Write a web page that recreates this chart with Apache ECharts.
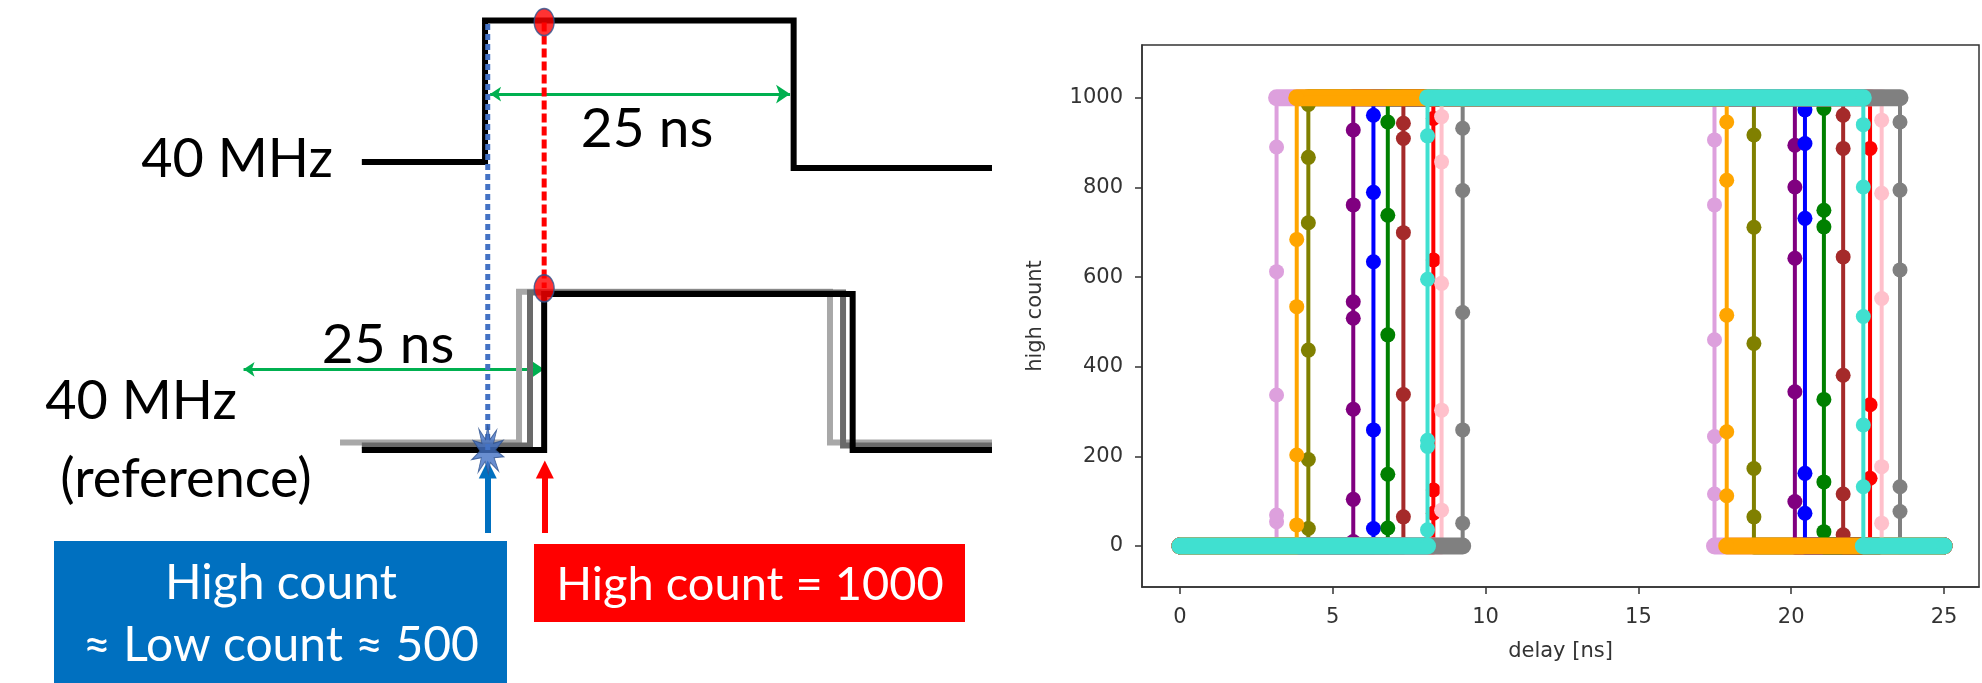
<!DOCTYPE html>
<html><head><meta charset="utf-8">
<script src="https://cdn.jsdelivr.net/npm/echarts@6/dist/echarts.min.js"></script>
<style>html,body{margin:0;padding:0;background:#fff}#c{width:1982px;height:683px}</style>
</head><body><div id="c"></div>
<script>
// ================= right panel: measured scans =================
const delayTicks = [0, 5, 10, 15, 20, 25];
const countTicks = [0, 200, 400, 600, 800, 1000];
const scanNames = ['plum', 'olive', 'purple', 'blue', 'green', 'brown', 'red', 'pink', 'gray', 'orange', 'turquoise'];
const firstDelay = 0;
const lastDelay = 25;
const lowCount = 0;
const highCount = 1000;
const riseDelay = [3.16, 4.2, 5.67, 6.33, 6.8, 7.31, 8.29, 8.56, 9.25, 3.82, 8.1];
const fallDelay = [17.49, 18.78, 20.12, 20.45, 21.07, 21.7, 22.58, 22.96, 23.56, 17.89, 22.36];
const riseCounts = [
  [54, 69, 337, 612, 890],
  [39, 193, 437, 721, 867, 985],
  [10, 104, 305, 508, 545, 761, 928],
  [39, 259, 634, 789, 961],
  [40, 160, 471, 738, 946],
  [65, 338, 699, 909, 943],
  [73, 125, 638, 954],
  [80, 303, 586, 857, 958],
  [51, 259, 521, 793, 932],
  [47, 203, 534, 684],
  [36, 222, 236, 595, 915]
];
const fallCounts = [
  [906, 761, 460, 244, 116],
  [917, 711, 452, 173, 65],
  [894, 801, 642, 344, 99],
  [973, 898, 731, 162, 73],
  [976, 749, 712, 327, 143, 32],
  [961, 887, 645, 381, 116, 25],
  [887, 315, 151],
  [950, 787, 552, 177, 51],
  [999, 946, 794, 616, 132, 77],
  [946, 816, 515, 255, 112],
  [940, 801, 512, 270, 132]
];

// ================= left panel: timing diagram (x in ns, y in logic level) =================
const clockTop = [[-10, 1.92], [0, 1.92], [0, 2.863], [25.05, 2.863], [25.05, 1.88], [41.15, 1.88]];
const refGhostLight = [[-11.77, 0.05], [2.76, 0.05], [2.76, 1.055], [28.0, 1.055], [28.0, 0.05], [41.15, 0.05]];
const refGhostDark = [[-10, 0.03], [3.65, 0.03], [3.65, 1.05], [29.06, 1.05], [29.06, 0.03], [41.15, 0.03]];
const refClock = [[-10, 0], [4.8, 0], [4.8, 1.04], [29.84, 1.04], [29.84, 0], [41.15, 0]];
const blueSample = [[0.22, 2.84], [0.22, 0]];
const redSample = [[4.8, 2.85], [4.8, 1.08]];
const redDots = [[4.8, 2.853], [4.8, 1.078]];
const blueBurst = [[0.22, 0]];
const periodArrows = [[[0.41, 2.373], [24.76, 2.373]], [[-19.6, 0.538], [4.8, 0.538]]];
const blueArrow = [[0.22, -0.553], [0.22, -0.129]];
const redArrow = [[4.85, -0.553], [4.85, -0.129]];
const periodLabel = '25 ns';
const clockLabel = '40 MHz';
const refLabel = '(reference)';
const blueBoxLines = ['High count', '≈ Low count ≈ 500'];
const redBoxLine = 'High count = 1000';

// ---------------- styles ----------------
const scanColors = {
  plum: '#DDA0DD', olive: '#808000', purple: '#800080', blue: '#0000FF', green: '#008000',
  brown: '#A52A2A', red: '#FF0000', pink: '#FFC0CB', gray: '#808080', orange: '#FFA500', turquoise: '#40E0D0'
};
const axisInk = '#333';
const mplFont = 'DejaVu Sans';
const diaFont = "Lato, 'Liberation Sans', sans-serif";

const series = [];
function band(seg, color, z) {
  return { type: 'line', xAxisIndex: 0, yAxisIndex: 0, silent: true, data: seg, z: z,
    showSymbol: false, symbol: 'none',
    lineStyle: { color: color, width: 17, cap: 'round' } };
}
scanNames.forEach((name, i) => {
  const r = riseDelay[i], f = fallDelay[i];
  const color = scanColors[name];
  const z = 10 + i;
  series.push(band([[firstDelay, lowCount], [r, lowCount]], color, z));
  series.push(band([[r, highCount], [f, highCount]], color, z));
  series.push(band([[f, lowCount], [lastDelay, lowCount]], color, z));
  const trace = [[firstDelay, lowCount], [r, lowCount]]
    .concat(riseCounts[i].map(v => [r, v]))
    .concat([[r, highCount], [f, highCount]])
    .concat(fallCounts[i].map(v => [f, v]))
    .concat([[f, lowCount], [lastDelay, lowCount]]);
  series.push({
    type: 'line', name: name, xAxisIndex: 0, yAxisIndex: 0, silent: true, z: z,
    data: trace, symbol: 'circle', symbolSize: 15, showSymbol: true, showAllSymbol: true,
    itemStyle: { color: color }, lineStyle: { color: color, width: 4 }
  });
});

// diagram series
const D = { xAxisIndex: 1, yAxisIndex: 1, silent: true };
function wave(data, color, width, type, extra) {
  return Object.assign({ type: 'line', data: data, showSymbol: false, symbol: 'none',
    lineStyle: { color: color, width: width, type: type || 'solid', cap: 'butt', join: 'miter' } }, D, extra || {});
}
series.push(wave(clockTop, '#000', 6));
series.push(wave(refGhostLight, '#A8A8A8', 6));
series.push(wave(refGhostDark, '#6A6A6A', 6));
series.push(wave(refClock, '#000', 6));
series.push(wave(blueSample, '#4472C4', 5, [6, 4]));
series.push(wave(redSample, '#FF0000', 5, [9, 4]));
series.push(Object.assign({ type: 'lines', coordinateSystem: 'cartesian2d',
  lineStyle: { color: '#00B050', width: 3, opacity: 1 }, symbol: ['arrow', 'arrow'], symbolSize: [11, 14],
  data: periodArrows.map(c => ({ coords: c })) }, D));
series.push(Object.assign({ type: 'lines', coordinateSystem: 'cartesian2d',
  lineStyle: { color: '#0070C0', width: 6, opacity: 1 }, symbol: ['none', 'triangle'], symbolSize: [19, 18],
  data: [{ coords: blueArrow }] }, D));
series.push(Object.assign({ type: 'lines', coordinateSystem: 'cartesian2d',
  lineStyle: { color: '#FF0000', width: 6, opacity: 1 }, symbol: ['none', 'triangle'], symbolSize: [19, 18],
  data: [{ coords: redArrow }] }, D));
series.push(Object.assign({ type: 'scatter', data: redDots, symbol: 'circle', symbolSize: [20, 27],
  itemStyle: { color: '#FF0000', borderColor: '#2F528F', borderWidth: 1.5 }, z: 5 }, D));
series.push(Object.assign({ type: 'scatter', data: blueBurst,
  symbol: 'path://M50,0 L57,28 L78,8 L68,36 L98,30 L74,50 L100,64 L70,66 L84,94 L58,76 L52,100 L42,74 L20,96 L30,66 L0,70 L26,52 L4,30 L32,36 L22,6 L43,28 Z',
  symbolSize: [32, 48], itemStyle: { color: '#4472C4', borderColor: '#2F528F', borderWidth: 1 }, z: 5 }, D));

function txt(x, y, text, size, color) {
  return { type: 'text', x: x, y: y, silent: true, z: 10,
    style: { text: text, font: size + 'px ' + diaFont, fill: color || '#000', textAlign: 'center', textVerticalAlign: 'middle' } };
}

const chart = echarts.init(document.getElementById('c'), null, { renderer: 'canvas' });
chart.setOption({
  animation: false,
  backgroundColor: '#fff',
  grid: [
    { left: 1142, top: 45, width: 837, height: 542, show: true, borderColor: axisInk, borderWidth: 1.5, backgroundColor: 'transparent' },
    { left: 0, top: 0, width: 1000, height: 683, show: false }
  ],
  xAxis: [
    { type: 'value', gridIndex: 0, min: -1.243, max: 26.145,
      name: 'delay [ns]', nameLocation: 'middle', nameGap: 54,
      nameTextStyle: { fontFamily: mplFont, fontSize: 21, color: axisInk },
      axisLine: { show: true, onZero: false, lineStyle: { color: axisInk, width: 1.5 } },
      axisTick: { show: true, inside: false, length: 7, customValues: delayTicks, lineStyle: { color: axisInk, width: 1.5 } },
      axisLabel: { show: true, customValues: delayTicks, margin: 20, fontFamily: mplFont, fontSize: 21, color: axisInk,
        formatter: v => String(v) },
      splitLine: { show: false } },
    { type: 'value', gridIndex: 1, min: -39.37, max: 41.8, show: false }
  ],
  yAxis: [
    { type: 'value', gridIndex: 0, min: -91.5, max: 1117.7,
      name: 'high count', nameLocation: 'middle', nameGap: 96, nameRotate: 90,
      nameTextStyle: { fontFamily: mplFont, fontSize: 21, color: axisInk },
      axisLine: { show: true, onZero: false, lineStyle: { color: axisInk, width: 1.5 } },
      axisTick: { show: true, inside: false, length: 7, customValues: countTicks, lineStyle: { color: axisInk, width: 1.5 } },
      axisLabel: { show: true, customValues: countTicks, margin: 19, fontFamily: mplFont, fontSize: 21, color: axisInk,
        formatter: v => String(v) },
      splitLine: { show: false } },
    { type: 'value', gridIndex: 1, min: -1.553, max: 3.0, show: false }
  ],
  series: series,
  graphic: [
    txt(237, 160, clockLabel, 54),
    txt(647, 129, periodLabel, 55),
    txt(388, 345, periodLabel, 55),
    txt(141, 402, clockLabel, 54),
    txt(186, 480, refLabel, 54),
    { type: 'rect', silent: true, z: 8, shape: { x: 54, y: 541, width: 453, height: 142 }, style: { fill: '#0070C0' } },
    { type: 'rect', silent: true, z: 8, shape: { x: 534, y: 544, width: 431, height: 78 }, style: { fill: '#FF0000' } },
    txt(281, 584, blueBoxLines[0], 48, '#fff'),
    txt(281, 646, blueBoxLines[1], 48, '#fff'),
    txt(750, 585, redBoxLine, 47, '#fff')
  ]
});
</script></body></html>
